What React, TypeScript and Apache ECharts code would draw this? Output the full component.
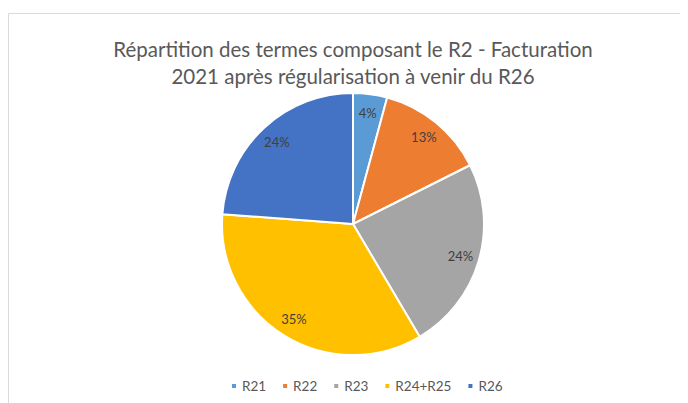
import React, { useEffect, useRef } from "react";
import * as echarts from "echarts";

const categories = ["R21", "R22", "R23", "R24+R25", "R26"];
const values = [4.2, 13.4, 23.9, 34.7, 23.8];
const colors = ["#5B9BD5", "#ED7D31", "#A5A5A5", "#FFC000", "#4472C4"];
const titleLines = [
  "Répartition des termes composant le R2 - Facturation",
  "2021 après régularisation à venir du R26",
];

export default function App() {
  const ref = useRef<HTMLDivElement>(null);
  useEffect(() => {
    if (!ref.current) return;
    const chart = echarts.init(ref.current, undefined, { renderer: "svg" });
    const data = categories.map((name, i) => ({
      name,
      value: values[i],
      itemStyle: { color: colors[i] },
    }));
    const font = "Lato, 'Open Sans', sans-serif";
    chart.setOption({
      animation: false,
      backgroundColor: "#ffffff",
      graphic: [
        {
          type: "rect",
          shape: { x: 0.5, y: 5.5, width: 720, height: 420 },
          style: { fill: "none", stroke: "#d9d9d9", lineWidth: 1 },
          silent: true,
        },
        {
          type: "text",
          x: 345,
          y: 41,
          style: {
            text: titleLines[0],
            fill: "#595959",
            font: `20.5px ${font}`,
            textAlign: "center",
            textVerticalAlign: "middle",
          },
        },
        {
          type: "text",
          x: 345,
          y: 68,
          style: {
            text: titleLines[1],
            fill: "#595959",
            font: `20.5px ${font}`,
            textAlign: "center",
            textVerticalAlign: "middle",
          },
        },
      ],
      legend: {
        data: categories,
        left: 217,
        top: 366,
        icon: "rect",
        itemWidth: 6,
        itemHeight: 6,
        itemGap: 15,
        textStyle: { color: "#595959", fontSize: 13.5, fontFamily: font },
        selectedMode: false,
      },
      series: [
        {
          type: "pie",
          center: [345, 216],
          radius: [0, 131],
          startAngle: 90,
          clockwise: true,
          data,
          label: { show: false },
          labelLine: { show: false },
          itemStyle: { borderColor: "#ffffff", borderWidth: 2 },
          silent: true,
        },
        {
          type: "pie",
          center: [345, 216],
          radius: [87, 131],
          startAngle: 90,
          clockwise: true,
          data: categories.map((name, i) => ({
            name,
            value: values[i],
            itemStyle: { color: "rgba(0,0,0,0)" },
          })),
          label: {
            show: true,
            position: "inside",
            color: "#404040",
            fontSize: 13,
            fontFamily: font,
            formatter: (p: any) => `${Math.round(p.percent)}%`,
          },
          labelLine: { show: false },
          silent: true,
        },
      ],
    });
    return () => chart.dispose();
  }, []);
  return <div ref={ref} style={{ width: 680, height: 395 }} />;
}
